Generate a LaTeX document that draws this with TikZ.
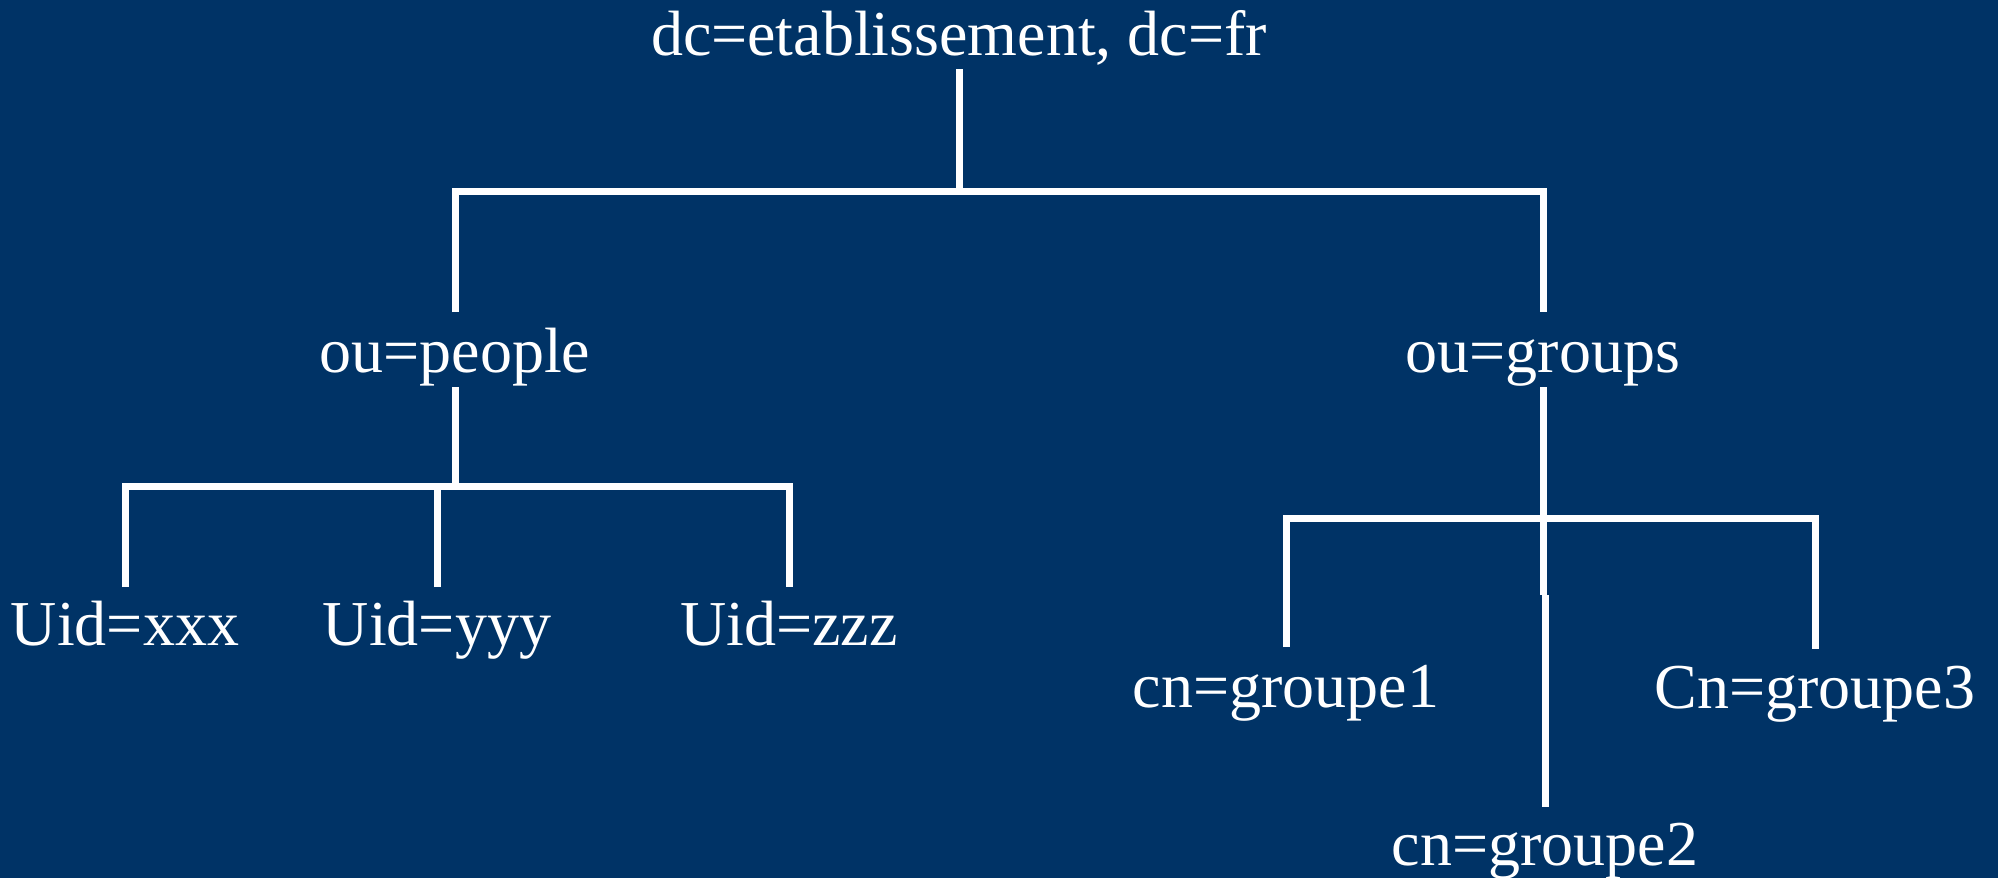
\documentclass[tikz,border=0pt]{standalone}
\usepackage{fontspec}
\setmainfont{Liberation Serif}
\definecolor{bgblue}{RGB}{0,51,102}
\begin{document}
\begin{tikzpicture}[x=1pt,y=-1pt,
  lbl/.style={anchor=base, text=white, inner sep=0pt, font=\fontsize{64}{76}\selectfont},
  link/.style={draw=white, line width=7pt, line join=miter}]
\fill[bgblue] (0,0) rectangle (1998,878);
\useasboundingbox (0,0) rectangle (1998,878);
% nodes
\node[lbl] (root) at (959,55) {dc=etablissement, dc=fr};
\node[lbl] (people) at (455,372) {ou=people};
\node[lbl] (groups) at (1543,372) {ou=groups};
\node[lbl] (uid1) at (125,645) {Uid=xxx};
\node[lbl] (uid2) at (437,645) {Uid=yyy};
\node[lbl] (uid3) at (789,645) {Uid=zzz};
\node[lbl] (g1) at (1286,707) {cn=groupe1};
\node[lbl] (g3) at (1815,708) {Cn=groupe3};
\node[lbl] (g2) at (1545,865) {cn=groupe2};
% junctions
\coordinate (j0) at (959,191);
\coordinate (j1) at (455,486);
\coordinate (j2) at (1543,518);
\coordinate (jog) at (1543,595);
% connectors
\draw[link] ([yshift=-14pt]root.base) -- (j0);
\draw[link] ([yshift=60pt]people.base) |- (j0) -| ([yshift=60pt]groups.base);
\draw[link] ([yshift=-15pt]people.base) -- (j1);
\draw[link] ([yshift=58pt]uid1.base) |- (j1) -| ([yshift=58pt]uid3.base);
\draw[link] ([yshift=58pt]uid2.base) -- (uid2.base |- j1);
\draw[link] ([yshift=-15pt]groups.base) -- (jog);
\draw[link] ([xshift=2pt]jog) -- ([yshift=58pt]g2.base);
\draw[link] ([yshift=60pt]g1.base) |- (j2) -| ([yshift=59pt]g3.base);
\end{tikzpicture}
\end{document}
